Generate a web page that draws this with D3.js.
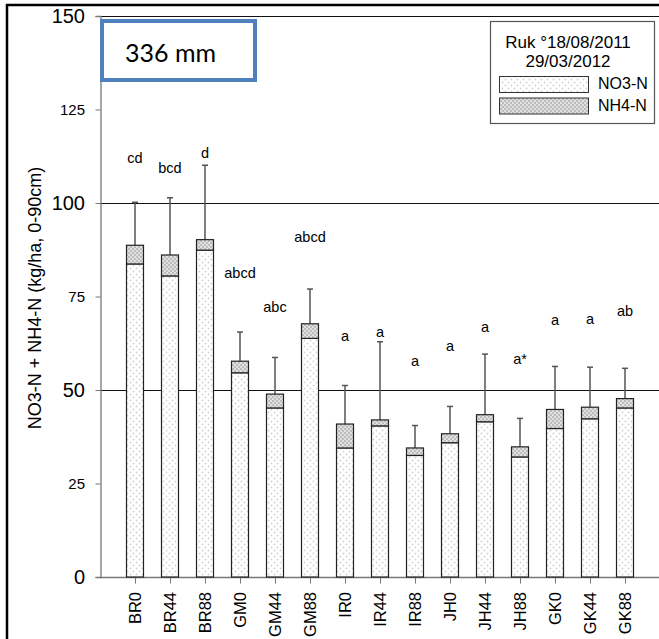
<!DOCTYPE html>
<html><head><meta charset="utf-8">
<script src="https://cdn.jsdelivr.net/npm/d3@7"></script>
<style>body{margin:0;background:#fff}svg{display:block}</style>
</head><body>
<script>
const categories = ["BR0","BR44","BR88","GM0","GM44","GM88","IR0","IR44","IR88","JH0","JH44","JH88","GK0","GK44","GK88"];
const no3 = [83.7,80.5,87.4,54.6,45.2,63.8,34.5,40.4,32.5,35.9,41.5,32.1,39.7,42.3,45.2];
const nh4 = [5.0,5.6,2.8,3.1,3.7,3.9,6.4,1.6,2.0,2.4,1.9,2.7,5.1,3.1,2.5];
const errSD = [11.5,15.3,19.9,7.8,9.8,9.3,10.3,20.9,6.0,7.3,16.2,7.6,11.5,10.7,8.1];
const letters = ["cd","bcd","d","abcd","abc","abcd","a","a","a","a","a","a*","a","a","ab"];
const letterY = [110.7,108.0,112.0,79.9,70.9,89.7,63.2,64.1,56.5,60.5,65.6,57.0,67.4,67.6,69.8];
const majorTicks = [0,50,100,150];
const minorTicks = [25,75,125];
const gridValues = [50,100,150];

const W=659,H=639;
const svg=d3.select("body").append("svg").attr("width",W).attr("height",H);
const defs=svg.append("defs");
const p1=defs.append("pattern").attr("id","pNO3").attr("patternUnits","userSpaceOnUse").attr("width",6).attr("height",6);
p1.append("rect").attr("width",6).attr("height",6).attr("fill","#fff");
p1.append("circle").attr("cx",1.5).attr("cy",1.5).attr("r",0.9).attr("fill","#d2d2d2");
p1.append("circle").attr("cx",4.5).attr("cy",4.5).attr("r",0.9).attr("fill","#d2d2d2");
const p2=defs.append("pattern").attr("id","pNH4").attr("patternUnits","userSpaceOnUse").attr("width",4).attr("height",4);
p2.append("rect").attr("width",4).attr("height",4).attr("fill","#e0e0e0");
p2.append("rect").attr("x",0).attr("y",0).attr("width",2).attr("height",2).attr("fill","#bdbdbd");
p2.append("rect").attr("x",2).attr("y",2).attr("width",2).attr("height",2).attr("fill","#bdbdbd");

const y=d3.scaleLinear().domain([0,150]).range([577,16]);
const x=d3.scaleLinear().domain([-1,16]).range([100,695]);
const font="'Liberation Sans', Arial, sans-serif";

// outer frame
svg.append("path").attr("d",`M7,${H} L7,5 L${W},5`).attr("fill","none").attr("stroke","#000").attr("stroke-width",2.5);

// gridlines
svg.selectAll(".grid").data(gridValues).join("line")
  .attr("x1",100).attr("x2",W).attr("y1",d=>Math.round(y(d))+0.5).attr("y2",d=>Math.round(y(d))+0.5)
  .attr("stroke","#111").attr("stroke-width",1);

// y axis
const yAx=svg.append("g").attr("transform","translate(100.5,0)")
  .call(d3.axisLeft(y).tickValues(majorTicks.concat(minorTicks)).tickSize(5).tickFormat(()=>""));
yAx.select(".domain").attr("stroke","#777").attr("stroke-width",1.3);
yAx.selectAll(".tick line").attr("stroke","#777");
svg.selectAll(".ymaj").data(majorTicks).join("text")
  .attr("x",85).attr("y",d=>y(d)).attr("dy","0.36em").attr("text-anchor","end")
  .attr("font-family",font).attr("font-size",20).attr("fill","#000").text(d=>d);
svg.selectAll(".ymin").data(minorTicks).join("text")
  .attr("x",85).attr("y",d=>y(d)).attr("dy","0.36em").attr("text-anchor","end")
  .attr("font-family",font).attr("font-size",15).attr("fill","#000").text(d=>d);

// x axis
const xAx=svg.append("g").attr("transform","translate(0,577.5)")
  .call(d3.axisBottom(x).tickValues(d3.range(categories.length)).tickSize(6).tickFormat(()=>""));
xAx.select(".domain").attr("stroke","#777").attr("stroke-width",1.3).attr("d",`M100,0H${W}`);
xAx.selectAll(".tick line").attr("stroke","#777");
svg.selectAll(".xl").data(categories).join("text")
  .attr("transform",(d,i)=>`translate(${x(i)},592) rotate(-90)`)
  .attr("dy","0.36em").attr("text-anchor","end")
  .attr("font-family",font).attr("font-size",16.5).attr("fill","#000").text(d=>d);

// y title
svg.append("text").attr("transform","translate(35,298) rotate(-90)")
  .attr("dy","0.36em").attr("text-anchor","middle")
  .attr("font-family",font).attr("font-size",18).attr("fill","#000")
  .text("NO3-N + NH4-N (kg/ha, 0-90cm)");

const bw=17;
// error bars
const eb=svg.selectAll(".eb").data(categories).join("g");
eb.append("line").attr("x1",(d,i)=>x(i)).attr("x2",(d,i)=>x(i))
  .attr("y1",(d,i)=>y(no3[i]+nh4[i])).attr("y2",(d,i)=>y(no3[i]+nh4[i]+errSD[i]))
  .attr("stroke","#555").attr("stroke-width",1.5);
eb.append("line").attr("x1",(d,i)=>x(i)-3).attr("x2",(d,i)=>x(i)+3)
  .attr("y1",(d,i)=>y(no3[i]+nh4[i]+errSD[i])).attr("y2",(d,i)=>y(no3[i]+nh4[i]+errSD[i]))
  .attr("stroke","#555").attr("stroke-width",1.5);

// bars
svg.selectAll(".bno3").data(categories).join("rect")
  .attr("x",(d,i)=>x(i)-bw/2).attr("width",bw)
  .attr("y",(d,i)=>y(no3[i])).attr("height",(d,i)=>y(0)-y(no3[i]))
  .attr("fill","url(#pNO3)").attr("stroke","#222").attr("stroke-width",1.2);
svg.selectAll(".bnh4").data(categories).join("rect")
  .attr("x",(d,i)=>x(i)-bw/2).attr("width",bw)
  .attr("y",(d,i)=>y(no3[i]+nh4[i])).attr("height",(d,i)=>y(no3[i])-y(no3[i]+nh4[i]))
  .attr("fill","url(#pNH4)").attr("stroke","#222").attr("stroke-width",1.2);

// letters
svg.selectAll(".lt").data(letters).join("text")
  .attr("x",(d,i)=>x(i)).attr("y",(d,i)=>y(letterY[i])).attr("text-anchor","middle")
  .attr("font-family",font).attr("font-size",14.5).attr("fill","#000").text(d=>d);

// 336 mm box
svg.append("rect").attr("x",102).attr("y",21).attr("width",153).attr("height",59)
  .attr("fill","#fff").attr("stroke","#4F81BD").attr("stroke-width",4);
svg.append("text").attr("x",125).attr("y",62).attr("font-family","Lato, 'Open Sans', sans-serif")
  .attr("font-size",25).attr("fill","#000").text("336 mm");

// legend
const lg=svg.append("g");
lg.append("rect").attr("x",490.5).attr("y",21.5).attr("width",164).attr("height",102)
  .attr("fill","#fff").attr("stroke","#555").attr("stroke-width",1.2);
lg.append("text").attr("x",568).attr("y",48).attr("text-anchor","middle").attr("font-family",font).attr("font-size",17).text("Ruk °18/08/2011");
lg.append("text").attr("x",568).attr("y",67).attr("text-anchor","middle").attr("font-family",font).attr("font-size",17).text("29/03/2012");
const legItems=[{fill:"url(#pNO3)",label:"NO3-N",y0:76.5},{fill:"url(#pNH4)",label:"NH4-N",y0:98}];
legItems.forEach(it=>{
  lg.append("rect").attr("x",499.5).attr("y",it.y0).attr("width",89).attr("height",16)
    .attr("fill",it.fill).attr("stroke","#333").attr("stroke-width",1);
  lg.append("text").attr("x",598).attr("y",it.y0+12.5).attr("font-family",font).attr("font-size",16).text(it.label);
});
</script>
</body></html>
